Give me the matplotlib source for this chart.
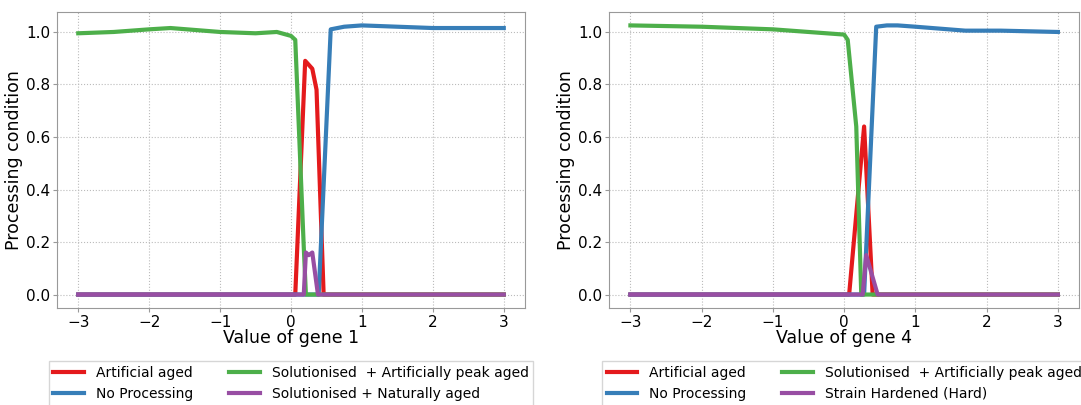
import matplotlib
matplotlib.use('Agg')
import matplotlib.pyplot as plt

# gene 1 panel
g1_red_x = [-3, 0.0, 0.06, 0.20, 0.30, 0.36, 0.46, 3]
g1_red_y = [0, 0, 0, 0.89, 0.86, 0.78, 0, 0]
g1_blue_x = [-3, 0.39, 0.56, 0.75, 1.0, 1.5, 2.0, 3.0]
g1_blue_y = [0, 0, 1.01, 1.02, 1.025, 1.02, 1.015, 1.015]
g1_green_x = [-3, -2.5, -2.0, -1.7, -1.0, -0.5, -0.2, 0.0, 0.06, 0.18, 0.21, 3]
g1_green_y = [0.995, 1.0, 1.01, 1.015, 1.0, 0.995, 1.0, 0.985, 0.97, 0.18, 0, 0]
g1_purple_x = [-3, 0.18, 0.21, 0.25, 0.30, 0.38, 3]
g1_purple_y = [0, 0, 0.16, 0.15, 0.16, 0, 0]

# gene 4 panel
g4_red_x = [-3, 0.07, 0.28, 0.40, 3]
g4_red_y = [0, 0, 0.64, 0, 0]
g4_blue_x = [-3, 0.28, 0.45, 0.6, 0.75, 1.0, 1.7, 2.2, 3.0]
g4_blue_y = [0, 0, 1.02, 1.025, 1.025, 1.02, 1.005, 1.005, 1.0]
g4_green_x = [-3, -2.0, -1.0, -0.5, 0.0, 0.05, 0.17, 0.24, 3]
g4_green_y = [1.025, 1.02, 1.01, 1.0, 0.99, 0.97, 0.64, 0, 0]
g4_purple_x = [-3, 0.26, 0.31, 0.47, 3]
g4_purple_y = [0, 0, 0.15, 0, 0]

colors = {'red': '#e41a1c', 'blue': '#377eb8', 'green': '#4daf4a', 'purple': '#984ea3'}

fig = plt.figure(figsize=(10.81, 4.05), dpi=100)
ax1 = fig.add_axes([0.0527, 0.2395, 0.433, 0.731])
ax2 = fig.add_axes([0.5634, 0.2395, 0.435, 0.731])

panels = [
    (ax1, 'Value of gene 1', 'Solutionised + Naturally aged',
     g1_red_x, g1_red_y, g1_blue_x, g1_blue_y, g1_green_x, g1_green_y, g1_purple_x, g1_purple_y),
    (ax2, 'Value of gene 4', 'Strain Hardened (Hard)',
     g4_red_x, g4_red_y, g4_blue_x, g4_blue_y, g4_green_x, g4_green_y, g4_purple_x, g4_purple_y),
]

for ax, xlabel, purple_label, rx, ry, bx, by, gx, gy, px, py in panels:
    ax.plot(rx, ry, color=colors['red'], lw=3, label='Artificial aged')
    ax.plot(bx, by, color=colors['blue'], lw=3, label='No Processing')
    ax.plot(gx, gy, color=colors['green'], lw=3, label='Solutionised  + Artificially peak aged')
    ax.plot(px, py, color=colors['purple'], lw=3, label=purple_label)
    ax.set_xlabel(xlabel, fontsize=12.5, labelpad=-1)
    ax.set_ylabel('Processing condition', fontsize=12.5, labelpad=2)
    ax.grid(True, linestyle=':', color='#bbbbbb')
    for s in ax.spines.values():
        s.set_color('#999999')
    ax.tick_params(labelsize=11, color='#999999', length=3, pad=2)
    ax.legend(ncol=2, loc='upper center', bbox_to_anchor=(0.5, -0.155),
              fontsize=10, fancybox=False, handlelength=2.2, handletextpad=0.85,
              columnspacing=2.6, borderpad=0.35, labelspacing=0.5)

plt.savefig('out.png')
